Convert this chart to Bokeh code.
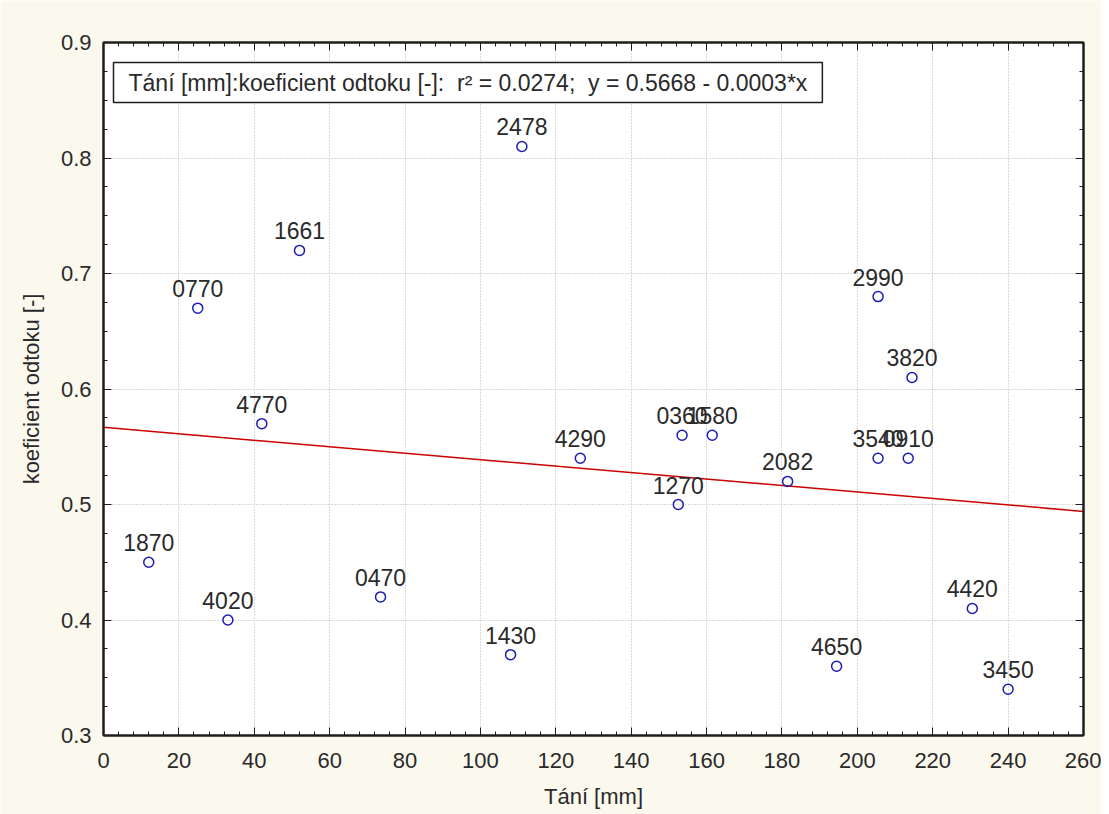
import numpy as np
from bokeh.plotting import figure
from bokeh.models import (ColumnDataSource, LinearAxis, SingleIntervalTicker, Range1d,
                          Label, LabelSet)
from bokeh.core.properties import value
from bokeh.embed import file_html
from bokeh.resources import INLINE

# ---- data ----
station_ids = ["1870", "0770", "4020", "4770", "1661", "0470", "1430", "2478", "4290", "1270",
               "0360", "1580", "2082", "4650", "2990", "3540", "0910", "3820", "4420", "3450"]
tani_mm = [12, 25, 33, 42, 52, 73.5, 108, 111, 126.5, 152.5,
           153.5, 161.5, 181.5, 194.5, 205.5, 205.5, 213.5, 214.5, 230.5, 240]
koef_odtoku = [0.45, 0.67, 0.40, 0.57, 0.72, 0.42, 0.37, 0.81, 0.54, 0.50,
               0.56, 0.56, 0.52, 0.36, 0.68, 0.54, 0.54, 0.61, 0.41, 0.34]
x_range = (0, 260)
y_range = (0.3, 0.9)
legend_text = "Tání [mm]:koeficient odtoku [-]: \u00a0r\u00b2 = 0.0274; \u00a0y = 0.5668 - 0.0003*x"

FONT = "Liberation Sans"
BG = "#FBF8EE"
INK = "#1e1e1e"
TXT = "#2a2a2a"

p = figure(width=1101, height=814, output_backend="svg", toolbar_location=None,
           x_range=Range1d(*x_range), y_range=Range1d(*y_range),
           min_border_left=103, min_border_right=18, min_border_top=42, min_border_bottom=79,
           background_fill_color="white", border_fill_color=BG,
           x_axis_label="Tání [mm]", y_axis_label="koeficient odtoku [-]")
p.outline_line_color = INK
p.outline_line_width = 2

xt = SingleIntervalTicker(interval=20, num_minor_ticks=5)
yt = SingleIntervalTicker(interval=0.1, num_minor_ticks=4)

def style_axis(ax, labels=True):
    ax.axis_line_color = INK
    ax.axis_line_width = 2
    ax.major_tick_in = 8
    ax.major_tick_out = 0
    ax.minor_tick_in = 4
    ax.minor_tick_out = 0
    ax.major_tick_line_color = INK
    ax.minor_tick_line_color = INK
    ax.major_tick_line_width = 1
    ax.minor_tick_line_width = 1
    ax.major_label_text_font = FONT
    ax.major_label_text_font_size = "22px"
    ax.major_label_text_color = TXT if labels else None
    ax.axis_label_text_font = FONT
    ax.axis_label_text_font_size = "22px"
    ax.axis_label_text_font_style = "normal"
    ax.axis_label_text_color = TXT

p.xaxis.ticker = xt
p.yaxis.ticker = yt
style_axis(p.xaxis[0])
style_axis(p.yaxis[0])
p.xaxis.major_label_standoff = 17
p.yaxis.major_label_standoff = 12
p.xaxis.axis_label_standoff = 13
p.yaxis.axis_label_standoff = 14

top_ax = LinearAxis(ticker=SingleIntervalTicker(interval=20, num_minor_ticks=5))
right_ax = LinearAxis(ticker=SingleIntervalTicker(interval=0.1, num_minor_ticks=4))
style_axis(top_ax, labels=False)
style_axis(right_ax, labels=False)
top_ax.major_label_text_font_size = "0px"
right_ax.major_label_text_font_size = "0px"
top_ax.major_label_standoff = 0
right_ax.major_label_standoff = 0
p.add_layout(top_ax, "above")
p.add_layout(right_ax, "right")

p.grid.grid_line_color = "#b4b4b4"
p.grid.grid_line_dash = "1 2"
p.grid.grid_line_width = 1
p.xgrid.ticker = xt
p.ygrid.ticker = yt

# regression line computed from the data
slope, intercept = np.polyfit(np.array(tani_mm), np.array(koef_odtoku), 1)
lx = [x_range[0], x_range[1]]
ly = [intercept + slope * v for v in lx]
p.line(lx, ly, line_color="#cc0000", line_width=1.5)

src = ColumnDataSource(dict(x=tani_mm, y=koef_odtoku, t=station_ids))
p.scatter("x", "y", source=src, marker="circle", size=10, fill_color=None,
          line_color="#1c1cb4", line_width=1.5)

labels = LabelSet(x="x", y="y", text="t", source=src, text_align="center",
                  text_baseline="alphabetic", y_offset=11, text_font=value(FONT),
                  text_font_size="23px", text_color=TXT)
p.add_layout(labels)

leg = Label(x=10, y=673, x_units="screen", y_units="screen", text=legend_text,
            text_font=FONT, text_font_size="23px", text_color=TXT,
            text_align="left", text_baseline="top",
            border_line_color=INK, border_line_width=1.5,
            background_fill_color="white", padding=(15, 7))
p.add_layout(leg)

open("out.html", "w").write(file_html(p, INLINE))
